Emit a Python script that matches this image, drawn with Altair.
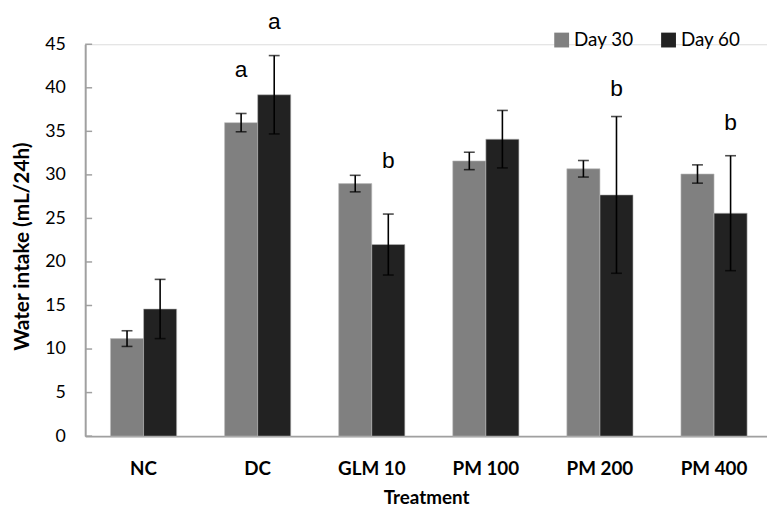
import altair as alt
import pandas as pd

groups = ["NC", "DC", "GLM 10", "PM 100", "PM 200", "PM 400"]
days = ["Day 30", "Day 60"]
mean_d30 = [11.2, 36.0, 29.0, 31.6, 30.7, 30.1]
err_d30 = [0.9, 1.05, 0.95, 1.0, 0.95, 1.05]
mean_d60 = [14.6, 39.2, 22.0, 34.1, 27.7, 25.6]
err_d60 = [3.4, 4.5, 3.5, 3.3, 9.0, 6.6]

# significance letters: group, day, letter, baseline height (data units)
let_group = ["DC", "DC", "GLM 10", "PM 200", "PM 400"]
let_day = ["Day 30", "Day 60", "Day 60", "Day 60", "Day 60"]
let_text = ["a", "a", "b", "b", "b"]
let_pos = [41.2, 46.7, 30.8, 39.1, 35.1]

y_ticks = [0, 5, 10, 15, 20, 25, 30, 35, 40, 45]

rows = []
for g, m, e in zip(groups, mean_d30, err_d30):
    rows.append({"group": g, "day": "Day 30", "mean": m, "lo": m - e, "hi": m + e})
for g, m, e in zip(groups, mean_d60, err_d60):
    rows.append({"group": g, "day": "Day 60", "mean": m, "lo": m - e, "hi": m + e})
df = pd.DataFrame(rows)

df_let = pd.DataFrame({"group": let_group, "day": let_day, "txt": let_text, "pos": let_pos})
df_ticks = pd.DataFrame({"v": y_ticks})

FONT = "Lato"
AXC = "#a0a0a0"

x_enc = alt.X(
    "group:N",
    sort=groups,
    scale=alt.Scale(paddingInner=0.42, paddingOuter=0.198, align=0.56),
    axis=alt.Axis(
        title="Treatment",
        labelFont=FONT, labelFontSize=19, labelFontWeight="bold", labelColor="black",
        labelAngle=0, labelPadding=33, labelBaseline="middle",
        ticks=False, domainColor=AXC, domainWidth=2,
        titleFont=FONT, titleFontSize=19, titleFontWeight="bold", titleColor="black",
        titleY=62, titleBaseline="middle",
    ),
)
xo_enc = alt.XOffset("day:N", sort=days, scale=alt.Scale(paddingInner=0, paddingOuter=0))
y_scale = alt.Scale(domain=[0, 45], nice=False)

bars = alt.Chart(df).mark_bar(stroke="#bbbbbb", strokeWidth=0.6).encode(
    x=x_enc,
    xOffset=xo_enc,
    y=alt.Y(
        "mean:Q",
        scale=y_scale,
        axis=alt.Axis(
            title="Water intake (mL/24h)",
            values=y_ticks, ticks=False, grid=False,
            labelFont=FONT, labelFontSize=18, labelColor="black", labelPadding=20,
            domainColor=AXC, domainWidth=2,
            titleFont=FONT, titleFontSize=21, titleFontWeight="bold", titleColor="black",
            titleAngle=270, titleX=-63, titleY=204, titleAlign="center", titleBaseline="middle",
        ),
    ),
    color=alt.Color(
        "day:N",
        sort=days,
        scale=alt.Scale(domain=days, range=["#808080", "#222222"]),
        legend=alt.Legend(
            title=None, orient="none", legendX=472, legendY=-14, direction="horizontal",
            symbolType="square", symbolSize=225, symbolStrokeWidth=0,
            labelFont=FONT, labelFontSize=19, labelColor="black", labelOffset=3,
            columnPadding=25,
        ),
    ),
)

err_rule = alt.Chart(df).mark_rule(color="black", strokeWidth=1.6).encode(
    x=alt.X("group:N", sort=groups),
    xOffset=alt.XOffset("day:N", sort=days),
    y=alt.Y("lo:Q", scale=y_scale),
    y2="hi:Q",
)
cap_lo = alt.Chart(df).mark_tick(color="black", size=11, thickness=1.6).encode(
    x=alt.X("group:N", sort=groups),
    xOffset=alt.XOffset("day:N", sort=days),
    y=alt.Y("lo:Q", scale=y_scale),
)
cap_hi = alt.Chart(df).mark_tick(color="black", size=11, thickness=1.6).encode(
    x=alt.X("group:N", sort=groups),
    xOffset=alt.XOffset("day:N", sort=days),
    y=alt.Y("hi:Q", scale=y_scale),
)
letters = alt.Chart(df_let).mark_text(
    font="Liberation Sans", fontSize=23, color="black", baseline="alphabetic", align="center"
).encode(
    x=alt.X("group:N", sort=groups),
    xOffset=alt.XOffset("day:N", sort=days),
    y=alt.Y("pos:Q", scale=y_scale),
    text="txt:N",
)
yticks = alt.Chart(df_ticks).mark_rule(color=AXC, strokeWidth=1.5).encode(
    y=alt.Y("v:Q", scale=y_scale),
    x=alt.value(0),
    x2=alt.value(7),
)

chart = (
    alt.layer(bars, err_rule, cap_lo, cap_hi, letters, yticks)
    .properties(
        width=689,
        height=396,
        autosize=alt.AutoSizeParams(type="none"),
        padding={"left": 78, "top": 34, "right": 0, "bottom": 70},
    )
    .configure_view(stroke=None)
    .configure(background="white")
)

chart.save("out.html", embed_options={"renderer": "svg", "actions": False})
